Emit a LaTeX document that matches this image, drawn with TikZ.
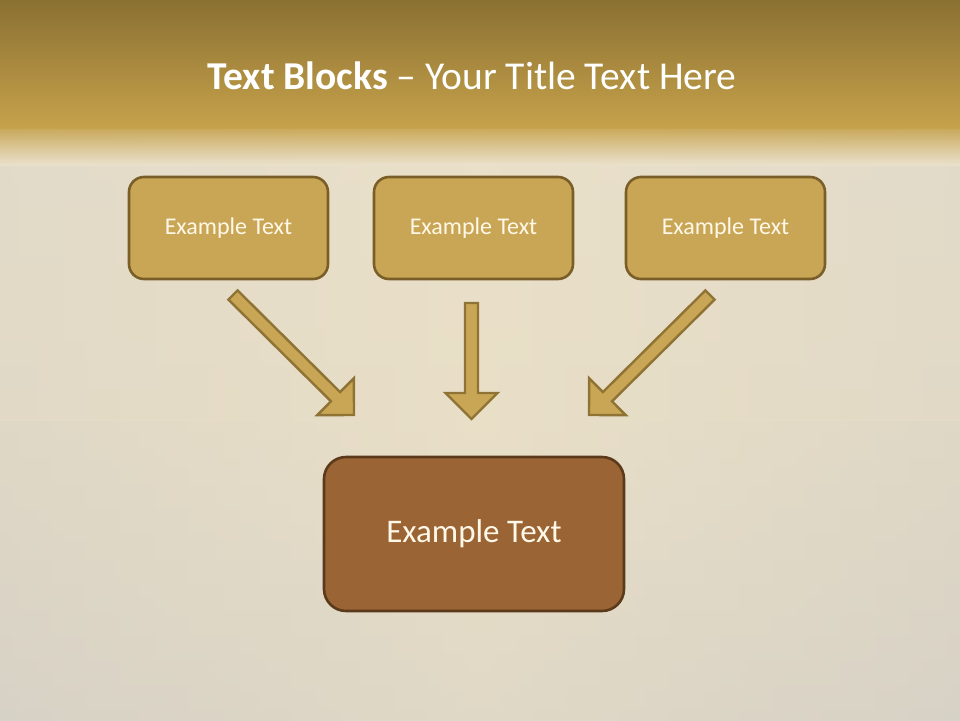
\documentclass[tikz,border=0pt]{standalone}
\usepackage{fontspec}
\setmainfont{Carlito}
\usetikzlibrary{calc}
\definecolor{bandtop}{HTML}{8A7032}
\definecolor{bandbot}{HTML}{C6A24B}
\definecolor{paper}{HTML}{E9DFC7}
\definecolor{paperedge}{HTML}{D6D1C6}
\definecolor{boxfill}{HTML}{C9A655}
\definecolor{boxline}{HTML}{7A5E27}
\definecolor{mainfill}{HTML}{9A6434}
\definecolor{mainline}{HTML}{5B3A1B}
\definecolor{arrowfill}{HTML}{C9A655}
\definecolor{arrowline}{HTML}{8F7335}
\definecolor{textlight}{HTML}{FFF8E8}
\tikzset{
  smallbox/.style={draw=boxline, line width=2.6pt, fill=boxfill, rounded corners=15pt,
    minimum width=199pt, minimum height=102pt, inner sep=0pt,
    text=textlight, font=\fontsize{24}{28}\selectfont},
  mainbox/.style={draw=mainline, line width=2.6pt, fill=mainfill, rounded corners=22pt,
    minimum width=300pt, minimum height=154pt, inner sep=0pt,
    text=textlight, font=\fontsize{33}{38}\selectfont},
  blockarrow/.style={draw=arrowline, line width=2.4pt, fill=arrowfill, line join=miter},
  titletext/.style={text=white, font=\fontsize{39.5}{44}\selectfont}
}
\newcommand{\myblockarrow}[2]{%
  \coordinate (hb) at ($(#2)!26pt!(#1)$);
  \path[blockarrow]
    ($(#1)!6.5pt!90:(#2)$) -- ($(hb)!6.5pt!-90:(#1)$) -- ($(hb)!26pt!-90:(#1)$) -- (#2)
    -- ($(hb)!26pt!90:(#1)$) -- ($(hb)!6.5pt!90:(#1)$) -- ($(#1)!6.5pt!-90:(#2)$) -- cycle;
}
\begin{document}
\begin{tikzpicture}[x=1pt,y=-1pt]
\useasboundingbox (0,0) rectangle (960,720);
% background
\shade[left color=paperedge, right color=paperedge, middle color=paper] (0,0) rectangle (960,720);
\shade[top color=paper!92!white, bottom color=paper, opacity=0.6] (0,140) rectangle (960,420);
\shade[top color=paper, bottom color=paperedge!85!paper, opacity=0.5] (0,420) rectangle (960,720);
\shade[top color=bandtop, bottom color=bandbot] (0,0) rectangle (960,128);
\shade[top color=bandbot, bottom color=paper!90!white, opacity=0.9] (0,127) rectangle (960,165);
% title
\node[titletext] (title) at (472,76) {\textbf{Text Blocks} – Your Title Text Here};
% boxes
\node[smallbox] (b1) at (228.5,228) {Example Text};
\node[smallbox] (b2) at (473.5,228) {Example Text};
\node[smallbox] (b3) at (725.5,228) {Example Text};
\node[mainbox] (m) at (474,534) {Example Text};
% arrows
\coordinate (a1s) at (233,295);
\coordinate (a1e) at (354,415);
\coordinate (a2s) at (471.5,303);
\coordinate (a2e) at (471.5,419);
\coordinate (a3s) at (710,295);
\coordinate (a3e) at (589,415);
\myblockarrow{a1s}{a1e}
\myblockarrow{a2s}{a2e}
\myblockarrow{a3s}{a3e}
\end{tikzpicture}
\end{document}
